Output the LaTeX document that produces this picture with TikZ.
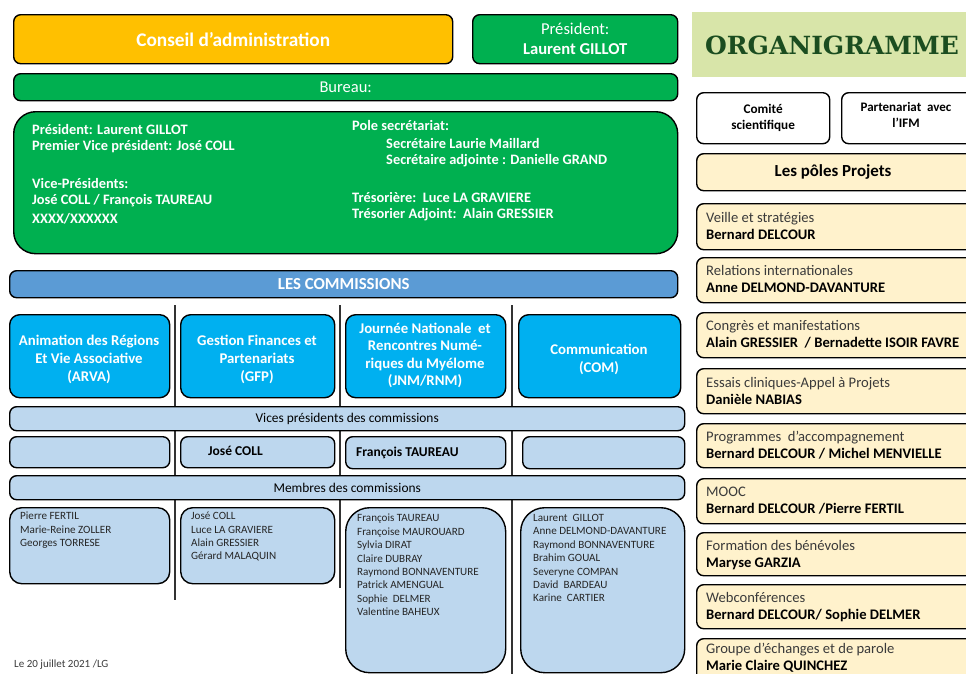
\documentclass[tikz,border=0pt]{standalone}
\usepackage{fontspec}
\setmainfont{Carlito}
\newfontfamily\slab{DejaVu Serif}
\definecolor{orangeC}{HTML}{FFC000}
\definecolor{greenC}{HTML}{00B050}
\definecolor{steelC}{HTML}{5B9BD5}
\definecolor{cyanC}{HTML}{00B0F0}
\definecolor{paleC}{HTML}{BDD7EE}
\definecolor{yelC}{HTML}{FFF2CC}
\definecolor{olivebg}{HTML}{D8E5A9}
\definecolor{darkgreen}{HTML}{1B4D20}
\definecolor{txtgray}{HTML}{3A3A3A}
\newcommand\fs[2]{\fontsize{#1}{#2}\selectfont}
\newcommand\obox[7]{\node[bx,#6,minimum width={#4pt-#2pt},minimum height={#5pt-#3pt}] (#1) at (#2,#3) {#7};}
\begin{document}
\begin{tikzpicture}[x=1pt,y=-1pt,
  bx/.style={draw=black,line width=1.4pt,rounded corners=7pt,inner sep=0pt,anchor=north west,align=center},
  gt/.style={anchor=west,text=white,font=\fs{14.4}{17}\bfseries,inner sep=0pt},
  comm/.style={fill=cyanC,rounded corners=10pt},
  ctext/.style={inner sep=0pt,align=center,text=white,font=\fs{14.8}{18}\bfseries},
  pale/.style={fill=paleC,text=black,font=\fs{13.4}{15}},
  mem/.style={anchor=north west,align=left,inner sep=0pt,text=black!85,font=\fs{11.1}{13.4}},
  proj/.style={fill=yelC,rounded corners=7pt},
  ptxt/.style={anchor=north west,align=left,inner sep=0pt,font=\fs{14.6}{17}},
  sep/.style={draw=black!80,line width=1.3pt}]
\useasboundingbox (0,0) rectangle (966,673);
\clip (0,0) rectangle (966,673);

% separators behind commission columns
\coordinate (s1t) at (175,305); \coordinate (s1b) at (175,600);
\coordinate (s2t) at (340,305); \coordinate (s2b) at (340,588);
\coordinate (s3t) at (512,305); \coordinate (s3b) at (512,680);
\draw[sep] (s1t) -- (s1b);
\draw[sep] (s2t) -- (s2b);
\draw[sep] (s3t) -- (s3b);

% top
\obox{ca}{13}{14}{452}{63}{fill=orangeC,text=white,font=\fs{19.3}{22}\bfseries}{Conseil d’administration}
\obox{pres}{472}{14}{677}{63}{fill=greenC,text=white,font=\fs{16.6}{20}}{Président:\\\textbf{Laurent GILLOT}}
\obox{bur}{13}{73}{677}{100}{fill=greenC,text=white,font=\fs{16.5}{18}}{Bureau:}
\obox{bg}{13}{111}{677}{253}{fill=greenC,rounded corners=22pt}{}
\node[gt] (b1) at (32,129) {Président: Laurent GILLOT};
\node[gt] (b2) at (32,147) {Premier Vice président: José COLL};
\node[gt] (b3) at (32,183) {Vice-Présidents:};
\node[gt] (b4) at (32,201) {José COLL / François TAUREAU};
\node[gt] (b5) at (32,219) {XXXX/XXXXXX};
\node[gt] (b6) at (352,125) {Pole secrétariat:};
\node[gt] (b7) at (386,143) {Secrétaire Laurie Maillard};
\node[gt] (b8) at (386,161) {Secrétaire adjointe : Danielle GRAND};
\node[gt] (b9) at (352,197) {Trésorière:\ \ Luce LA GRAVIERE};
\node[gt] (b10) at (352,215) {Trésorier Adjoint:\ \ Alain GRESSIER};

% commissions
\obox{lc}{9}{270}{677}{297}{fill=steelC,text=white,font=\fs{16.8}{18}\bfseries}{LES COMMISSIONS}
\obox{c1}{9}{314}{169}{397}{comm}{}
\obox{c2}{180}{314}{334}{397}{comm}{}
\obox{c3}{345}{314}{505}{397}{comm}{}
\obox{c4}{518}{314}{680}{397}{comm}{}
\node[ctext] (c1t) at (89,359) {Animation des Régions\\Et Vie Associative\\(ARVA)};
\node[ctext] (c2t) at (257,359) {Gestion Finances et\\Partenariats\\(GFP)};
\node[ctext,font=\fs{14.8}{17.6}\bfseries] (c3t) at (425,355.5) {Journée Nationale\ \ et\\Rencontres Numé-\\riques du Myélome\\(JNM/RNM)};
\node[ctext] (c4t) at (599,359.5) {Communication\\(COM)};

\obox{vp}{9}{406}{684}{430}{pale}{Vices présidents des commissions}
\obox{v1}{9}{436}{169}{467}{pale}{}
\obox{v2}{180}{436}{334}{467}{pale}{}
\obox{v3}{345}{436}{505}{468}{pale}{}
\obox{v4}{522}{436}{684}{468}{pale}{}
\node[anchor=west,inner sep=0pt,font=\fs{13.5}{15}\bfseries] (v2t) at (208,451) {José COLL};
\node[anchor=west,inner sep=0pt,font=\fs{13.5}{15}\bfseries] (v3t) at (356,453) {François TAUREAU};

\obox{mb}{9}{475}{684}{499}{pale}{Membres des commissions}
\obox{m1}{9}{507}{169}{583}{pale,rounded corners=12pt}{}
\obox{m2}{180}{507}{334}{583}{pale,rounded corners=12pt}{}
\obox{m3}{345}{507}{505}{672}{pale,rounded corners=24pt}{}
\obox{m4}{520}{507}{684}{672}{pale,rounded corners=24pt}{}
\node[mem] (m1t) at (20,512) {Pierre FERTIL\\Marie-Reine ZOLLER\\Georges TORRESE};
\node[mem] (m2t) at (191,512) {José COLL\\Luce LA GRAVIERE\\Alain GRESSIER\\Gérard MALAQUIN};
\node[mem] (m3t) at (357,514) {François TAUREAU\\Françoise MAUROUARD\\Sylvia DIRAT\\Claire DUBRAY\\Raymond BONNAVENTURE\\Patrick AMENGUAL\\Sophie\ \ DELMER\\Valentine BAHEUX};
\node[mem] (m4t) at (533,514) {Laurent\ \ GILLOT\\Anne DELMOND-DAVANTURE\\Raymond BONNAVENTURE\\Brahim GOUAL\\Severyne COMPAN\\David\ \ BARDEAU\\Karine\ \ CARTIER};

\node[anchor=north west,inner sep=0pt,text=txtgray,font=\fs{11}{12}] (date) at (14,660) {Le 20 juillet 2021 /LG};

% right column
\fill[olivebg] (692,12) rectangle (970,77);
\node[inner sep=0pt,text=darkgreen,font=\slab\bfseries\fs{25}{28}] (org) at (832,45) {ORGANIGRAMME};
\obox{cs}{696}{92}{829}{143}{fill=white,font=\fs{13.2}{16}\bfseries}{Comité\\scientifique}
\obox{ifm}{841}{92}{990}{143}{fill=white}{}
\node[align=center,inner sep=0pt,font=\fs{13}{16}\bfseries] (ifmt) at (906,115) {Partenariat\ \ avec\\l’IFM};
\obox{pp}{696}{153}{990}{190}{proj}{}
\node[inner sep=0pt,font=\fs{16.9}{18}\bfseries] (ppt) at (833,172) {Les pôles Projets};

\obox{p1}{696}{203}{990}{249}{proj}{}
\obox{p2}{696}{257}{990}{302}{proj}{}
\obox{p3}{696}{312}{990}{357}{proj}{}
\obox{p4}{696}{368}{990}{413}{proj}{}
\obox{p5}{696}{423}{990}{467}{proj}{}
\obox{p6}{696}{478}{990}{523}{proj}{}
\obox{p7}{696}{532}{990}{575}{proj}{}
\obox{p8}{696}{584}{990}{628}{proj}{}
\obox{p9}{696}{638}{990}{690}{proj}{}
\node[ptxt] (p1t) at (706,212) {{\color{txtgray}Veille et stratégies}\\\textbf{Bernard DELCOUR}};
\node[ptxt] (p2t) at (706,265) {{\color{txtgray}Relations internationales}\\\textbf{Anne DELMOND-DAVANTURE}};
\node[ptxt] (p3t) at (706,320) {{\color{txtgray}Congrès et manifestations}\\\textbf{Alain GRESSIER\ \ / Bernadette ISOIR FAVRE}};
\node[ptxt] (p4t) at (706,377) {{\color{txtgray}Essais cliniques-Appel à Projets}\\\textbf{Danièle NABIAS}};
\node[ptxt] (p5t) at (706,431) {{\color{txtgray}Programmes\ \ d’accompagnement}\\\textbf{Bernard DELCOUR / Michel MENVIELLE}};
\node[ptxt] (p6t) at (706,487) {{\color{txtgray}MOOC}\\\textbf{Bernard DELCOUR /Pierre FERTIL}};
\node[ptxt] (p7t) at (706,540) {{\color{txtgray}Formation des bénévoles}\\\textbf{Maryse GARZIA}};
\node[ptxt] (p8t) at (706,592) {{\color{txtgray}Webconférences}\\\textbf{Bernard DELCOUR/ Sophie DELMER}};
\node[ptxt] (p9t) at (706,643) {{\color{txtgray}Groupe d’échanges et de parole}\\\textbf{Marie Claire QUINCHEZ}};
\end{tikzpicture}
\end{document}
